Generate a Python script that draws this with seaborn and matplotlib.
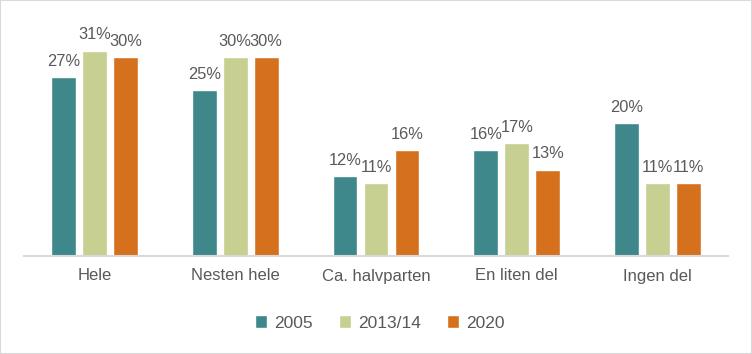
import pandas as pd
import matplotlib.pyplot as plt
import seaborn as sns

categories = ["Hele", "Nesten hele", "Ca. halvparten", "En liten del", "Ingen del"]
years = ["2005", "2013/14", "2020"]
values2005 = [27, 25, 12, 16, 20]
values2013 = [31, 30, 11, 17, 11]
values2020 = [30, 30, 16, 13, 11]
colors = ["#3E878B", "#C7CF91", "#D5711D"]
textColor = "#595959"

rows = []
for year, vals in zip(years, [values2005, values2013, values2020]):
    for cat, v in zip(categories, vals):
        rows.append({"kategori": cat, "år": year, "andel": v})
df = pd.DataFrame(rows)

sns.set_style("white")
plt.rcParams["font.family"] = ["Liberation Sans", "DejaVu Sans"]

fig = plt.figure(figsize=(7.52, 3.54), dpi=100)
ax = fig.add_axes([24 / 752, (354 - 256) / 354, 704 / 752, 232 / 354])

sns.barplot(
    data=df, x="kategori", y="andel", hue="år", palette=colors,
    order=categories, hue_order=years, width=0.66, gap=0.2,
    saturation=1, ax=ax, legend=True,
)
ax.set_ylim(0, 35)
ax.set_xlim(-0.5, len(categories) - 0.5)

# Verdietiketter over stolpene
for cont in ax.containers:
    ax.bar_label(cont, labels=[f"{v:.0f}%" for v in cont.datavalues],
                 padding=6, fontsize=11.8, color=textColor)

ax.set_xlabel("")
ax.set_ylabel("")
ax.set_yticks([])
for side in ["top", "right", "left"]:
    ax.spines[side].set_visible(False)
ax.spines["bottom"].set_color("#D9D9D9")
ax.spines["bottom"].set_linewidth(1.5)
ax.tick_params(axis="x", length=0, pad=9, labelsize=12, labelcolor=textColor)

handles, labels = ax.get_legend_handles_labels()
ax.legend_.remove()
fig.legend(handles, labels, loc="center", bbox_to_anchor=(0.505, 1 - 323 / 354),
           ncol=3, frameon=False, fontsize=12.5, labelcolor=textColor,
           handlelength=0.7, handleheight=0.7, handletextpad=0.4, columnspacing=1.5)

border = plt.Rectangle((0, 0), 1, 1, transform=fig.transFigure, fill=False,
                       edgecolor="#D9D9D9", linewidth=1.5)
fig.patches.append(border)

fig.savefig("out.png", dpi=100)
